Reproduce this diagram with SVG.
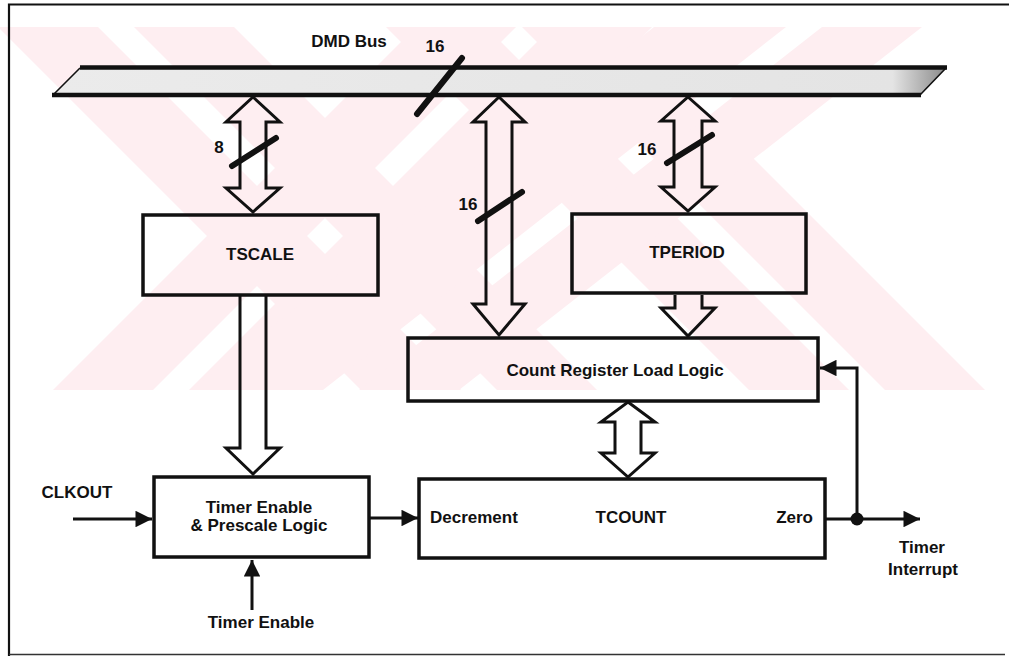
<svg xmlns="http://www.w3.org/2000/svg" width="1009" height="656" viewBox="0 0 1009 656">
  <style>
    .box { fill: none; stroke: #111; stroke-width: 3.5; }
    .bus-arrow { fill: none; stroke: #111; stroke-width: 3; stroke-linejoin: miter; }
    .wire { fill: none; stroke: #111; stroke-width: 3; }
    .slash { stroke: #111; stroke-width: 6; stroke-linecap: round; }
    .lbl { font-family: "Liberation Sans", Arial, sans-serif; font-weight: bold; font-size: 17px; fill: #111; }
    .mid { text-anchor: middle; }
    .end { text-anchor: end; }
    .wm { fill: #feeef1; }
  </style>
  <defs>
    <marker id="head" viewBox="0 0 10 10" refX="10" refY="5" markerWidth="7.5" markerHeight="5.5" markerUnits="strokeWidth" orient="auto">
      <path d="M0,0 L10,5 L0,10 Z" fill="#111"/>
    </marker>
    <linearGradient id="busFill" x1="0" y1="0" x2="1" y2="0">
      <stop offset="0" stop-color="#ebebeb"/>
      <stop offset="0.94" stop-color="#e4e4e4"/>
      <stop offset="1" stop-color="#8a8a8a"/>
    </linearGradient>
    <clipPath id="wmClip"><rect x="0" y="27" width="1004" height="363"/></clipPath>
  </defs>

  <rect width="1009" height="656" fill="#fff"/>

  <!-- faint striped background mark -->
  <g id="backdrop" clip-path="url(#wmClip)">
    <polygon class="wm" points="-2,27 98,27 461,390 361,390"/>
    <polygon class="wm" points="134,27 234,27 597,390 497,390"/>
    <polygon class="wm" points="416,27 516,27 153,390 53,390"/>
    <polygon class="wm" points="552,27 652,27 289,390 189,390"/>
    <polygon class="wm" points="386,27 486,27 849,390 749,390"/>
    <polygon class="wm" points="522,27 622,27 985,390 885,390"/>
    <polygon class="wm" points="654,27 786,27 323,390 191,390"/>
    <polygon class="wm" points="822,27 922,27 459,390 359,390"/>
  </g>

  <!-- outer frame -->
  <g id="frame" fill="none" stroke="#111">
    <path d="M9,656 L9,4.5 L1009,4.5" stroke-width="2.2"/>
    <path d="M9,654.5 L1005,654.5" stroke-width="1.6" stroke="#333"/>
  </g>

  <!-- DMD bus -->
  <g id="dmd-bus">
    <polygon points="80,68 946,68 920,95 53,95" fill="url(#busFill)"/>
    <path d="M80,68 L53,95 M946,68 L920,95" stroke="#111" stroke-width="1.6"/>
    <path d="M80,67.5 H947 M52,95 H921" stroke="#111" stroke-width="4.5"/>
    <text class="lbl mid" x="349" y="47">DMD Bus</text>
    <text class="lbl mid" x="435" y="52">16</text>
  </g>

  <!-- connectors -->
  <g id="connectors">
    <!-- bus <-> TSCALE -->
    <path class="bus-arrow" d="M253,97 L280,122 L266,122 L266,188 L280,188 L253,212 L226,188 L240,188 L240,122 L226,122 Z"/>
    <!-- bus <-> Count Register Load Logic -->
    <path class="bus-arrow" d="M499,97 L525,122 L512,122 L512,304 L525,304 L499,335 L473,304 L486,304 L486,122 L473,122 Z"/>
    <!-- bus <-> TPERIOD -->
    <path class="bus-arrow" d="M688,97 L715,121 L702,121 L702,187 L715,187 L688,211 L661,187 L674,187 L674,121 L661,121 Z"/>
    <!-- TSCALE -> Timer Enable & Prescale Logic -->
    <path class="bus-arrow" d="M240,296 L240,448 L226,448 L253,474 L280,448 L266,448 L266,296"/>
    <!-- TPERIOD -> Count Register Load Logic -->
    <path class="bus-arrow" d="M675,295 L675,308 L661,308 L688,336 L715,308 L702,308 L702,295"/>
    <!-- Count Register Load Logic <-> TCOUNT -->
    <path class="bus-arrow" d="M628,402 L655,422 L641,422 L641,453 L655,453 L628,477 L601,453 L615,453 L615,422 L601,422 Z"/>

    <!-- bus-width slashes -->
    <line class="slash" x1="417" y1="114" x2="462" y2="58"/>
    <line class="slash" x1="232" y1="166" x2="276" y2="138"/>
    <line class="slash" x1="478" y1="221" x2="522" y2="192"/>
    <line class="slash" x1="667" y1="163" x2="712" y2="135"/>

    <!-- signal wires -->
    <line class="wire" x1="73" y1="519" x2="152" y2="519" marker-end="url(#head)"/>
    <line class="wire" x1="252" y1="610" x2="252" y2="560" marker-end="url(#head)"/>
    <line class="wire" x1="370" y1="518" x2="418" y2="518" marker-end="url(#head)"/>
    <line class="wire" x1="826" y1="519" x2="920" y2="519" marker-end="url(#head)"/>
    <polyline class="wire" points="857,519 857,368 820,368" marker-end="url(#head)"/>
    <circle cx="857" cy="519" r="6.5" fill="#111"/>

    <text class="lbl mid" x="219" y="153">8</text>
    <text class="lbl mid" x="468" y="210">16</text>
    <text class="lbl mid" x="647" y="155">16</text>
  </g>

  <!-- blocks -->
  <g id="tscale">
    <rect class="box" x="143" y="215" width="235" height="80"/>
    <text class="lbl mid" x="260" y="260">TSCALE</text>
  </g>
  <g id="tperiod">
    <rect class="box" x="572" y="214" width="234" height="79"/>
    <text class="lbl mid" x="687" y="258">TPERIOD</text>
  </g>
  <g id="count-register-load-logic">
    <rect class="box" x="408" y="338" width="410" height="63"/>
    <text class="lbl mid" x="615" y="376">Count Register Load Logic</text>
  </g>
  <g id="timer-enable-prescale">
    <rect class="box" x="154" y="477" width="215" height="80"/>
    <text class="lbl mid" x="259" y="513">Timer Enable</text>
    <text class="lbl mid" x="259" y="531">&amp; Prescale Logic</text>
  </g>
  <g id="tcount">
    <rect class="box" x="419" y="479" width="406" height="79"/>
    <text class="lbl" x="430" y="523">Decrement</text>
    <text class="lbl mid" x="631" y="523">TCOUNT</text>
    <text class="lbl end" x="813" y="523">Zero</text>
  </g>

  <!-- external signals -->
  <g id="clkout">
    <text class="lbl mid" x="77" y="498">CLKOUT</text>
  </g>
  <g id="timer-enable-in">
    <text class="lbl mid" x="261" y="628">Timer Enable</text>
  </g>
  <g id="timer-interrupt">
    <text class="lbl mid" x="922" y="553">Timer</text>
    <text class="lbl mid" x="923" y="575">Interrupt</text>
  </g>
</svg>
